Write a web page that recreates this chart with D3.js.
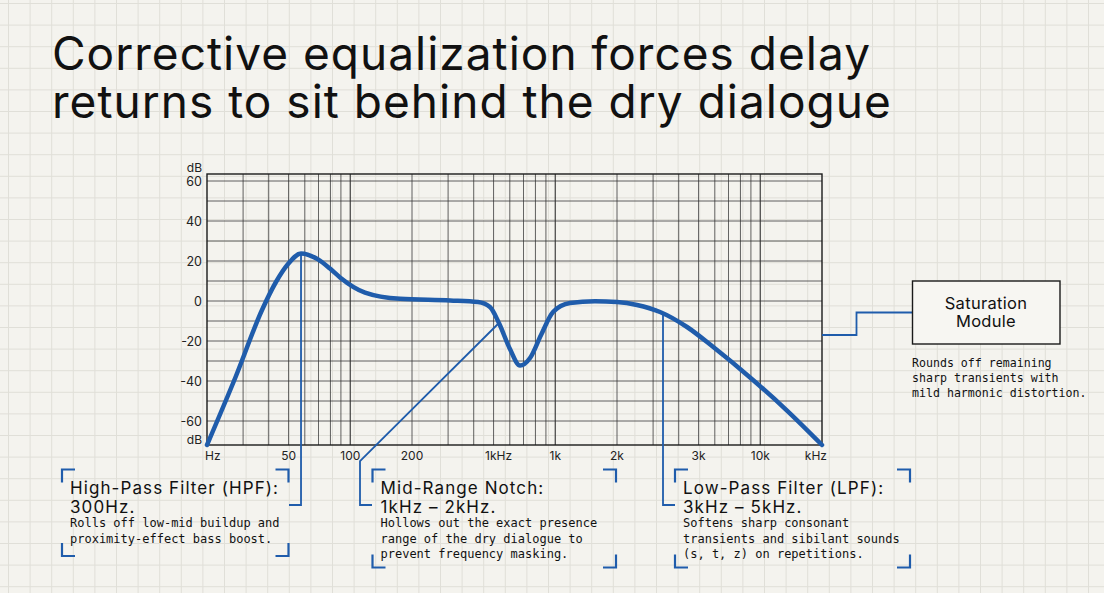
<!DOCTYPE html>
<html>
<head>
<meta charset="utf-8">
<script src="https://cdn.jsdelivr.net/npm/d3@7"></script>
<style>
  html, body { margin: 0; padding: 0; background: #f4f3ee; }
  svg { display: block; }
</style>
</head>
<body>
<svg id="chart" width="1104" height="593"></svg>
<script>
// frequency response (Hz, dB)
const freqHz = [20, 27.7, 37.1, 43.4, 49.7, 57.5, 69.6, 79.6, 89.1, 118, 175, 307, 420, 480, 531, 601, 673, 753, 852, 975, 1180, 1562, 2000, 2504, 3243, 4391, 5878, 9214, 13500, 20000];
const gainDb = [-72, -37.5, -4.5, 9.5, 18.5, 23.8, 20.8, 16.2, 11.8, 4.2, 1.1, 0.3, -0.5, -3.0, -11.0, -24.0, -32.3, -28.5, -17.0, -5.5, -1.0, -0.1, -0.5, -2.0, -5.5, -13.0, -22.9, -39.5, -54.8, -72];

// axis labels (the picture's own, odd as they are)
const xTickHz = [20, 50, 100, 200, 500, 1000, 2000, 5000, 10000, 20000];
const xTickLabels = ["Hz", "50", "100", "200", "1kHz", "1k", "2k", "3k", "10k", "kHz"];
const yTickDb = [60, 40, 20, 0, -20, -40, -60];

// where each callout touches the curve
const calloutHz = [57.5, 531, 3353];
const calloutDb = [23.8, -11.0, -6.0];

const titleText = "Corrective equalization forces delay returns to sit behind the dry dialogue";
const notes = [
  { head: ["High-Pass Filter (HPF):", "300Hz."], body: ["Rolls off low-mid buildup and", "proximity-effect bass boost."] },
  { head: ["Mid-Range Notch:", "1kHz \u2013 2kHz."], body: ["Hollows out the exact presence", "range of the dry dialogue to", "prevent frequency masking."] },
  { head: ["Low-Pass Filter (LPF):", "3kHz \u2013 5kHz."], body: ["Softens sharp consonant", "transients and sibilant sounds", "(s, t, z) on repetitions."] }
];
const satTitle = ["Saturation", "Module"];
const satBody = ["Rounds off remaining", "sharp transients with", "mild harmonic distortion."];

const W = 1104, H = 593;
const blue = "#1f5cab";
const sans = "Inter, 'Noto Sans', sans-serif";
const mono = "'DejaVu Sans Mono', 'Liberation Mono', monospace";

const svg = d3.select("#chart");

// paper grid
const paper = svg.append("g");
paper.append("rect").attr("width", W).attr("height", H).attr("fill", "#f4f3ee");
d3.range(8.5, W, 21.6).forEach(px => {
  paper.append("line").attr("x1", px).attr("x2", px).attr("y1", 0).attr("y2", H)
    .attr("stroke", "#e0dfd8").attr("stroke-width", 1);
});
d3.range(3.5, H, 21.6).forEach(py => {
  paper.append("line").attr("y1", py).attr("y2", py).attr("x1", 0).attr("x2", W)
    .attr("stroke", "#e0dfd8").attr("stroke-width", 1);
});

// title: one wrapped block; spacing fitted so the first line is as wide as in the picture
const probe = svg.append("text").attr("font-family", sans).attr("font-size", 46)
  .text("Corrective equalization forces delay");
const tls = (818 - probe.node().getComputedTextLength()) / 35;
probe.remove();
svg.append("foreignObject").attr("x", 52).attr("y", 29).attr("width", 890).attr("height", 110)
  .append("xhtml:div")
  .style("font-family", sans).style("font-size", "46px").style("line-height", "48px")
  .style("letter-spacing", tls + "px").style("color", "#111").style("margin", "0")
  .text(titleText);

// plot
const pLeft = 207, pRight = 822, pTop = 174, pBottom = 445;
const x = d3.scaleLog().domain([20, 20000]).range([pLeft, pRight]);
const y = d3.scaleLinear().domain([-72, 63.5]).range([pBottom, pTop]);

const grid = svg.append("g");
const minor = [];
[10, 100, 1000, 10000].forEach(dec => {
  for (let k = 1; k < 10; k++) { const f = dec * k; if (f > 20 && f < 20000) minor.push(f); }
});
grid.selectAll(".vx").data(minor).join("line")
  .attr("x1", d => x(d)).attr("x2", d => x(d)).attr("y1", pTop).attr("y2", pBottom)
  .attr("stroke", "#333").attr("stroke-width", d => [100, 1000, 10000].includes(d) ? 1.3 : 0.9)
  .attr("opacity", 0.85);
grid.selectAll(".hy").data(d3.range(-60, 61, 10)).join("line")
  .attr("x1", pLeft).attr("x2", pRight).attr("y1", d => y(d)).attr("y2", d => y(d))
  .attr("stroke", "#333").attr("stroke-width", 0.9).attr("opacity", 0.85);
grid.append("rect").attr("x", pLeft).attr("y", pTop).attr("width", pRight - pLeft).attr("height", pBottom - pTop)
  .attr("fill", "none").attr("stroke", "#1a1a1a").attr("stroke-width", 1.4);

// axis labels
const yAx = svg.append("g").attr("font-family", sans).attr("font-size", 12.5).attr("fill", "#222").attr("text-anchor", "end");
yAx.selectAll("text.tick").data(yTickDb).join("text")
  .attr("x", 202).attr("y", d => y(d)).attr("dy", "0.36em").text(d => d === 0 ? "0" : d < 0 ? "-" + (-d) : d);
yAx.append("text").attr("x", 202).attr("y", 172).attr("font-size", 12).text("dB");
yAx.append("text").attr("x", 202).attr("y", 444).attr("font-size", 12).text("dB");

const xAx = svg.append("g").attr("font-family", sans).attr("font-size", 12).attr("fill", "#222");
xAx.selectAll("text").data(xTickHz).join("text")
  .attr("x", (d, i) => i === 0 ? pLeft - 2 : i === xTickHz.length - 1 ? pRight + 5 : x(d) + (d === 500 ? 5 : 0))
  .attr("y", 460)
  .attr("text-anchor", (d, i) => i === 0 ? "start" : i === xTickHz.length - 1 ? "end" : "middle")
  .text((d, i) => xTickLabels[i]);

// callout connectors (drawn under the curve)
const conn = svg.append("g").attr("fill", "none").attr("stroke", blue).attr("stroke-width", 1.8);
conn.append("path").attr("d", d3.line()([[x(calloutHz[0]), y(calloutDb[0])], [x(calloutHz[0]), 505], [289, 505]]));
conn.append("path").attr("d", d3.line()([[x(calloutHz[1]), y(calloutDb[1])], [360, 461], [360, 505], [372, 505]]));
conn.append("path").attr("d", d3.line()([[x(calloutHz[2]), y(calloutDb[2])], [x(calloutHz[2]), 505], [675, 505]]));
// saturation module connector from the plot's right edge
conn.append("path").attr("d", d3.line()([[pRight, 335], [856.5, 335], [856.5, 312.5], [912, 312.5]]));

// response curve
const pts = freqHz.map((f, i) => [f, gainDb[i]]);
svg.append("path").datum(pts)
  .attr("fill", "none").attr("stroke", blue).attr("stroke-width", 4.5)
  .attr("stroke-linejoin", "round").attr("stroke-linecap", "round")
  .attr("d", d3.line().x(d => x(d[0])).y(d => y(d[1])).curve(d3.curveMonotoneX));

// callout boxes
const boxes = [
  { x0: 62, x1: 288.5, y0: 469.5, y1: 556, tx: 70 },
  { x0: 372.5, x1: 616, y0: 469.5, y1: 567.5, tx: 380.5 },
  { x0: 675, x1: 910, y0: 469.5, y1: 567.5, tx: 683 }
];
const arm = 13;
const headSize = 17;
let headLs = 0;
boxes.forEach((b, i) => {
  const g = svg.append("g");
  const br = g.append("g").attr("fill", "none").attr("stroke", blue).attr("stroke-width", 2.2);
  br.append("path").attr("d", `M${b.x0 + arm},${b.y0}H${b.x0}V${b.y0 + arm}`);
  br.append("path").attr("d", `M${b.x1 - arm},${b.y0}H${b.x1}V${b.y0 + arm}`);
  br.append("path").attr("d", `M${b.x0 + arm},${b.y1}H${b.x0}V${b.y1 - arm}`);
  br.append("path").attr("d", `M${b.x1 - arm},${b.y1}H${b.x1}V${b.y1 - arm}`);

  const h = g.append("g").attr("font-family", sans).attr("font-size", headSize).attr("fill", "#111");
  const first = h.append("text").attr("x", b.tx).attr("y", 494).text(notes[i].head[0]);
  if (i === 0) headLs = (208 - first.node().getComputedTextLength()) / (notes[i].head[0].length - 1);
  h.attr("letter-spacing", headLs);
  h.append("text").attr("x", b.tx).attr("y", 512.7).text(notes[i].head[1]);
  g.append("g").attr("font-family", mono).attr("font-size", 12).attr("fill", "#111")
    .selectAll("text").data(notes[i].body).join("text")
    .attr("x", b.tx).attr("y", (d, j) => 527 + j * 15.5).text(d => d);
});

// saturation module
const sat = svg.append("g");
sat.append("rect").attr("x", 912.5).attr("y", 281).attr("width", 147.5).attr("height", 63)
  .attr("fill", "#f7f6f2").attr("stroke", "#1a1a1a").attr("stroke-width", 1.4);
sat.append("g").attr("font-family", sans).attr("font-size", 16.5).attr("fill", "#111").attr("text-anchor", "middle")
  .attr("letter-spacing", 0.3)
  .selectAll("text").data(satTitle).join("text")
  .attr("x", 986).attr("y", (d, i) => 309 + i * 18).text(d => d);
sat.append("g").attr("font-family", mono).attr("font-size", 11.6).attr("fill", "#111")
  .selectAll("text").data(satBody).join("text")
  .attr("x", 912).attr("y", (d, i) => 367 + i * 15).text(d => d);
</script>
</body>
</html>
